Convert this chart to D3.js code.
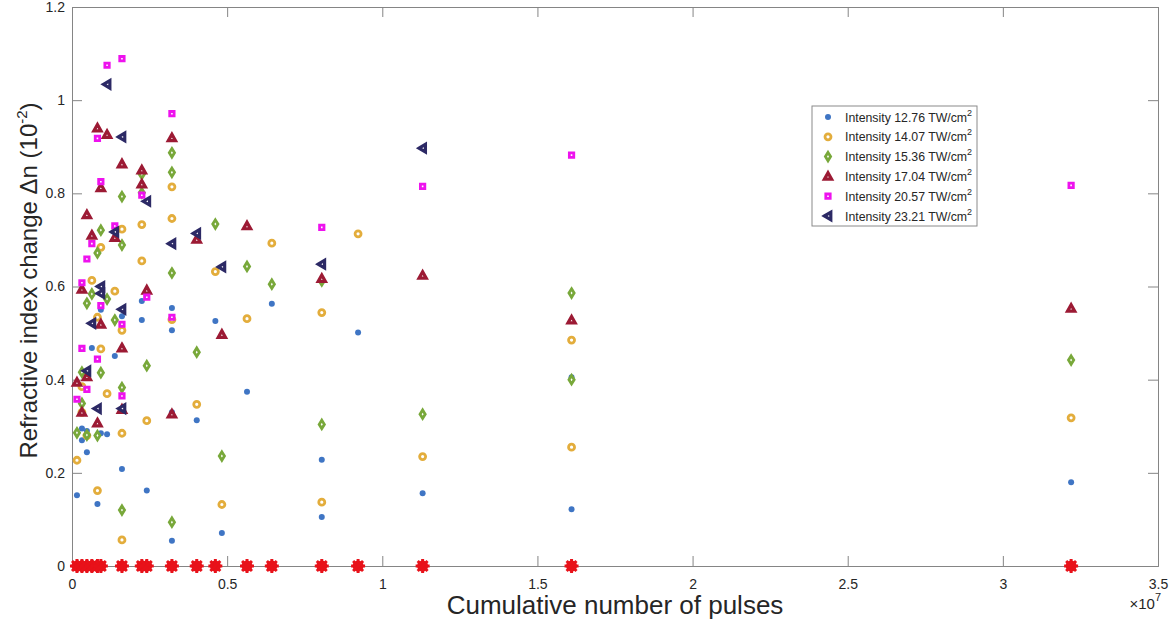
<!DOCTYPE html>
<html><head><meta charset="utf-8">
<script src="https://cdn.jsdelivr.net/npm/d3@7"></script>
<style>body{margin:0;background:#fff}svg{display:block}text{font-family:"Liberation Sans",Arial,Helvetica,sans-serif;fill:#262626}</style>
</head><body><svg id="c" width="1176" height="623"></svg>
<script>
// x values in units of 1e7 pulses
const s1x=[0.016,0.032,0.032,0.048,0.048,0.064,0.082,0.093,0.093,0.113,0.138,0.161,0.161,0.225,0.225,0.241,0.322,0.322,0.322,0.322,0.402,0.462,0.483,0.564,0.644,0.805,0.805,0.922,1.13,1.61,1.61,3.22];
const s1y=[0.152,0.295,0.27,0.244,0.29,0.468,0.133,0.285,0.55,0.283,0.451,0.208,0.536,0.569,0.528,0.162,0.33,0.554,0.506,0.054,0.313,0.526,0.071,0.374,0.563,0.228,0.105,0.501,0.156,0.405,0.122,0.18];
const s2x=[0.016,0.032,0.032,0.048,0.064,0.082,0.082,0.093,0.093,0.113,0.138,0.161,0.161,0.161,0.161,0.225,0.225,0.241,0.322,0.322,0.322,0.402,0.462,0.483,0.564,0.644,0.805,0.805,0.922,1.13,1.61,1.61,3.22];
const s2y=[0.227,0.385,0.33,0.28,0.613,0.162,0.534,0.466,0.684,0.37,0.59,0.285,0.506,0.723,0.056,0.733,0.655,0.312,0.814,0.746,0.529,0.347,0.632,0.132,0.531,0.693,0.544,0.137,0.713,0.235,0.485,0.255,0.318];
const s3x=[0.016,0.032,0.032,0.048,0.048,0.064,0.082,0.082,0.093,0.093,0.113,0.138,0.161,0.161,0.161,0.161,0.225,0.225,0.241,0.322,0.322,0.322,0.322,0.402,0.462,0.483,0.564,0.644,0.805,0.805,1.13,1.61,1.61,3.22];
const s3y=[0.286,0.349,0.416,0.281,0.564,0.584,0.28,0.672,0.415,0.721,0.573,0.528,0.12,0.383,0.689,0.793,0.841,0.801,0.43,0.094,0.629,0.845,0.887,0.459,0.734,0.236,0.643,0.605,0.612,0.304,0.326,0.586,0.4,0.442];
const s4x=[0.016,0.032,0.032,0.048,0.048,0.064,0.082,0.082,0.093,0.093,0.113,0.138,0.161,0.161,0.161,0.225,0.225,0.241,0.322,0.322,0.402,0.483,0.564,0.805,1.13,1.61,3.22];
const s4y=[0.394,0.594,0.33,0.406,0.754,0.71,0.94,0.307,0.812,0.519,0.926,0.705,0.863,0.468,0.336,0.85,0.82,0.592,0.919,0.326,0.701,0.497,0.73,0.617,0.624,0.528,0.553];
const s5x=[0.016,0.032,0.032,0.048,0.048,0.064,0.082,0.082,0.093,0.093,0.113,0.138,0.161,0.161,0.161,0.225,0.241,0.322,0.322,0.805,1.13,1.61,3.22];
const s5y=[0.358,0.608,0.467,0.659,0.379,0.692,0.918,0.444,0.825,0.559,1.075,0.73,1.089,0.519,0.365,0.796,0.577,0.971,0.534,0.727,0.815,0.882,0.817];
const s6x=[0.048,0.064,0.082,0.093,0.093,0.113,0.138,0.161,0.161,0.161,0.241,0.322,0.402,0.483,0.805,1.13];
const s6y=[0.419,0.521,0.338,0.6,0.585,1.034,0.717,0.921,0.551,0.338,0.783,0.692,0.714,0.642,0.648,0.897];
const zeroX=[0.016,0.032,0.048,0.064,0.082,0.093,0.161,0.225,0.241,0.322,0.402,0.462,0.564,0.644,0.805,0.922,1.13,1.61,3.22];
const seriesNames=["12.76","14.07","15.36","17.04","20.57","23.21"];
const xTicks=[0,0.5,1,1.5,2,2.5,3,3.5];
const yTicks=[0,0.2,0.4,0.6,0.8,1,1.2];

const svg=d3.select("#c");
const L=72,R=1158,T=7,B=566;
const x=d3.scaleLinear().domain([0,3.5]).range([L,R]);
const y=d3.scaleLinear().domain([0,1.2]).range([B,T]);
const axisCol="#858585";

// axes
const gx=svg.append("g").attr("transform",`translate(0,${B})`).call(d3.axisBottom(x).tickValues(xTicks).tickSize(-10).tickPadding(13).tickFormat(d=>d3.format("~g")(d)));
const gy=svg.append("g").attr("transform",`translate(${L},0)`).call(d3.axisLeft(y).tickValues(yTicks).tickSize(-10).tickPadding(7).tickFormat(d=>d3.format("~g")(d)));
const gxt=svg.append("g").attr("transform",`translate(0,${T})`).call(d3.axisTop(x).tickValues(xTicks).tickSize(-10).tickFormat(""));
const gyr=svg.append("g").attr("transform",`translate(${R},0)`).call(d3.axisRight(y).tickValues(yTicks).tickSize(-10).tickFormat(""));
[gx,gy,gxt,gyr].forEach(g=>{g.selectAll("path").attr("stroke",axisCol).attr("stroke-width",1);g.selectAll("line").attr("stroke",axisCol);g.selectAll("text").attr("font-size",14).attr("fill","#262626").style("font-family","'Liberation Sans',Arial,sans-serif");});

// titles
svg.append("text").attr("x",615).attr("y",614).attr("text-anchor","middle").attr("font-size",26).text("Cumulative number of pulses");
const yl=svg.append("text").attr("transform",`translate(37,${(T+B)/2-6}) rotate(-90)`).attr("text-anchor","middle").attr("font-size",24);
yl.append("tspan").text("Refractive index change \u0394n (10");
yl.append("tspan").attr("font-size",15).attr("dy",-10).text("-2");
yl.append("tspan").attr("dy",10).text(")");
const ex=svg.append("text").attr("x",R+3).attr("y",609).attr("text-anchor","end").attr("font-size",15);
ex.append("tspan").text("\u00d710");
ex.append("tspan").attr("font-size",11).attr("dy",-8).text("7");

// marker shapes (thick outlines, tiny white centre)
const shapes={
 dot:"M3,0A3,3 0 1,1 -3,0A3,3 0 1,1 3,0Z",
 ring:"M3,0A3,3 0 1,1 -3,0A3,3 0 1,1 3,0Z",
 diamond:"M0,-4.2L2.6,0L0,4.2L-2.6,0Z",
 tri:"M0,-3.6L3.6,2.8L-3.6,2.8Z",
 sq:"M-2.2,-2.2H2.2V2.2H-2.2Z",
 left:"M-3.6,0L2.8,-3.8L2.8,3.8Z"
};
const series=[
 {xs:s1x,ys:s1y,shape:"dot",color:"#3f75c4",fill:true},
 {xs:s2x,ys:s2y,shape:"ring",color:"#e3ad3c",fill:false,sw:2.8},
 {xs:s3x,ys:s3y,shape:"diamond",color:"#78a83a",fill:false,sw:2.8},
 {xs:s4x,ys:s4y,shape:"tri",color:"#9c1a34",fill:false,sw:3.2},
 {xs:s5x,ys:s5y,shape:"sq",color:"#ee12ee",fill:false,sw:2.8},
 {xs:s6x,ys:s6y,shape:"left",color:"#2c2965",fill:false,sw:3.2}
];
function drawMarker(g,s){
 const p=g.append("path").attr("d",shapes[s.shape]);
 if(s.fill) p.attr("fill",s.color).attr("stroke","none");
 else p.attr("fill","#fff").attr("stroke",s.color).attr("stroke-width",s.sw).attr("stroke-linejoin","miter");
}
series.forEach(s=>{
 const g=svg.append("g");
 s.xs.forEach((xv,i)=>{
  const m=g.append("g").attr("transform",`translate(${x(xv)},${y(s.ys[i])})`);
  drawMarker(m,s);
 });
});
// zero markers (red asterisks)
const zg=svg.append("g");
zeroX.forEach(xv=>{
 const m=zg.append("g").attr("transform",`translate(${x(xv)},${y(0)})`);
 m.append("circle").attr("r",5.5).attr("fill","#e8121a");
 [0,45,90,135].forEach(a=>{
  m.append("line").attr("x1",-7).attr("x2",7).attr("y1",0).attr("y2",0).attr("transform",`rotate(${a})`).attr("stroke","#e8121a").attr("stroke-width",3);
 });
});

// legend
const lg=svg.append("g");
lg.append("rect").attr("x",812).attr("y",106).attr("width",165).attr("height",120).attr("fill","#fff").attr("stroke","#8a8a8a").attr("stroke-width",1);
series.forEach((s,i)=>{
 const yy=117+i*19.8;
 const m=lg.append("g").attr("transform",`translate(828,${yy})`);
 drawMarker(m,s);
 const t=lg.append("text").attr("x",845).attr("y",yy+4.5).attr("font-size",12.3);
 t.append("tspan").text(`Intensity ${seriesNames[i]} TW/cm`);
 t.append("tspan").attr("font-size",9).attr("dy",-6).text("2");
});
</script></body></html>
